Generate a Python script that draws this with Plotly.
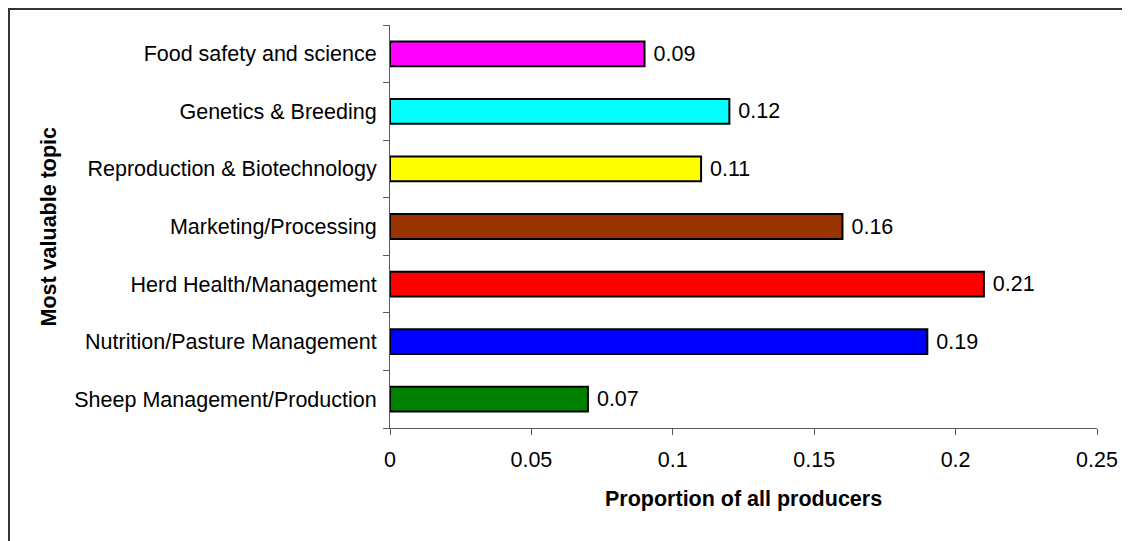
import plotly.graph_objects as go

categories = [
    "Sheep Management/Production",
    "Nutrition/Pasture Management",
    "Herd Health/Management",
    "Marketing/Processing",
    "Reproduction & Biotechnology",
    "Genetics & Breeding",
    "Food safety and science",
]
values = [0.07, 0.19, 0.21, 0.16, 0.11, 0.12, 0.09]
colors = ["#008000", "#0000FF", "#FF0000", "#993300", "#FFFF00", "#00FFFF", "#FF00FF"]
x_ticks = [0, 0.05, 0.1, 0.15, 0.2, 0.25]
x_title = "Proportion of all producers"
y_title = "Most valuable topic"

FONT = "Arial, Liberation Sans, sans-serif"
FS = 21.5
W, H = 1130, 541
# page offset of 8px (body margin) accounted for
L, T = 382, 17
plot_right, plot_bottom = 1089, 420
R, B = W - plot_right, H - plot_bottom
pw, ph = plot_right - L, plot_bottom - T

fig = go.Figure(
    go.Bar(
        x=values,
        y=categories,
        orientation="h",
        marker=dict(color=colors, line=dict(color="black", width=2)),
        width=0.43,
        text=["\u00a0" + f"{v:g}" for v in values],
        textposition="outside",
        textfont=dict(family=FONT, size=FS, color="black"),
        cliponaxis=False,
    )
)

fig.update_layout(
    width=W,
    height=H,
    margin=dict(l=L, r=R, t=T, b=B),
    paper_bgcolor="white",
    plot_bgcolor="white",
    showlegend=False,
    font=dict(family=FONT, size=FS, color="black"),
    xaxis=dict(
        range=[0, 0.25],
        tickvals=x_ticks,
        ticktext=[f"{v:g}" for v in x_ticks],
        ticks="outside",
        ticklen=6,
        tickcolor="#5a5a5a",
        showline=True,
        linecolor="#5a5a5a",
        linewidth=1,
        showgrid=False,
        zeroline=False,
        ticklabelstandoff=6,
        tickfont=dict(family=FONT, size=FS, color="black"),
    ),
    yaxis=dict(
        type="category",
        categoryorder="array",
        categoryarray=categories,
        ticks="outside",
        tickson="boundaries",
        ticklen=6,
        tickcolor="#5a5a5a",
        showline=True,
        linecolor="#5a5a5a",
        linewidth=1,
        showgrid=False,
        zeroline=False,
        ticklabelstandoff=8,
        tickfont=dict(family=FONT, size=FS, color="black"),
    ),
    annotations=[
        dict(
            text=f"<b>{x_title}</b>",
            xref="paper", yref="paper",
            x=0.5, y=(plot_bottom - 491) / ph,
            xanchor="center", yanchor="middle",
            showarrow=False,
            font=dict(family=FONT, size=FS, color="black"),
        ),
        dict(
            text=f"<b>{y_title}</b>",
            xref="paper", yref="paper",
            x=(40 - L) / pw, y=0.5,
            xanchor="center", yanchor="middle",
            textangle=-90,
            showarrow=False,
            font=dict(family=FONT, size=FS, color="black"),
        ),
    ],
    shapes=[
        dict(
            type="rect",
            xref="paper", yref="paper",
            x0=(1 - L) / pw, x1=1.2,
            y0=-0.5, y1=(plot_bottom - 1) / ph,
            line=dict(color="#333333", width=2),
            fillcolor="rgba(0,0,0,0)",
            layer="below",
        )
    ],
)

fig.write_html("out.html")
